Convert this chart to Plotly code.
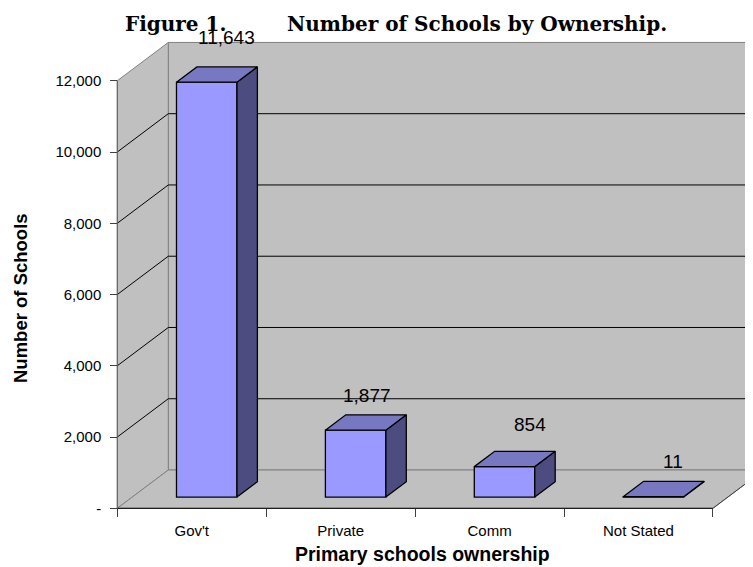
import plotly.graph_objects as go

# ---------------- data ----------------
categories = ["Gov't", "Private", "Comm", "Not Stated"]
values = [11643, 1877, 854, 11]
y_tick_values = [0, 2000, 4000, 6000, 8000, 10000, 12000]
y_tick_labels = ["-", "2,000", "4,000", "6,000", "8,000", "10,000", "12,000"]
title_left = "Figure 1."
title_right = "Number of Schools by Ownership."
x_title = "Primary schools ownership"
y_title = "Number of Schools"

# label nudges in pixels (Excel's quirky 3D label placement)
label_dx = [10, 1, 15, 9]
label_dy = [37, 27, 34, 27]

# ---------------- geometry (reference pixel coordinates) ----------------
W, H = 753, 567
OFF = 8                      # page body margin offset of the rendered figure
PL, PR, PT, PB = 100, 753, 30, 527   # plot area in page pixels
FW, FH = W - OFF, H - OFF
ML, MT = PL - OFF, PT - OFF
MR = FW - (PR - OFF)
MB = FH - (PB - OFF)
plot_w = PR - PL
plot_h = PB - PT

AX_X = 117.3          # px of front-left floor corner
AX_Y = 508.3
PX_PER_CAT = 148.9
PX_PER_VAL = 0.03563
DX = 51 / PX_PER_CAT        # depth offset in category units
DY = 38.3 / PX_PER_VAL      # depth offset in value units
F1 = 0.294                  # depth fraction of bar front face
BD = 0.40                   # bar depth fraction
BW = 60.5 / PX_PER_CAT      # bar width


def x_of_px(px):
    return (px - AX_X) / PX_PER_CAT - 0.5


def y_of_px(py):
    return (AX_Y - py) / PX_PER_VAL


def paper_x(px):
    return (px - PL) / plot_w


def paper_y(py):
    return (PB - py) / plot_h


xr = [x_of_px(PL), x_of_px(PR)]
yr = [y_of_px(PB), y_of_px(PT)]

n = len(categories)
xl0, xr0 = -0.5, n - 0.5
ymax = y_tick_values[-1]

WALL = "#C0C0C0"
EDGE = "#808080"
FRONT = "#9999FF"
TOP = "#7777C2"
SIDE = "#4C4C80"

shapes = []


def poly(pts, fill, line, width=1):
    path = "M " + " L ".join(f"{x},{y}" for x, y in pts) + " Z"
    return dict(type="path", path=path, xref="x", yref="y", fillcolor=fill,
                line=dict(color=line, width=width), layer="below")


def seg(x0, y0, x1, y1, color, width=1):
    return dict(type="line", x0=x0, y0=y0, x1=x1, y1=y1, xref="x", yref="y",
                line=dict(color=color, width=width), layer="below")


# back wall
shapes.append(poly([(xl0 + DX, DY), (xr0 + DX, DY), (xr0 + DX, ymax + DY), (xl0 + DX, ymax + DY)], WALL, EDGE))
# side wall
shapes.append(poly([(xl0, 0), (xl0, ymax), (xl0 + DX, ymax + DY), (xl0 + DX, DY)], WALL, EDGE))
# floor
shapes.append(poly([(xl0, 0), (xr0, 0), (xr0 + DX, DY), (xl0 + DX, DY)], WALL, EDGE))

# gridlines
for v in y_tick_values[1:-1]:
    shapes.append(seg(xl0, v, xl0 + DX, v + DY, "#000000"))
    shapes.append(seg(xl0 + DX, v + DY, xr0 + DX, v + DY, "#000000"))

# front edges
shapes.append(seg(xl0, 0, xr0, 0, "#000000"))
shapes.append(seg(xl0, 0, xl0, ymax, "#606060"))
shapes.append(seg(xr0, 0, xr0 + DX, DY, "#404040"))

fig = go.Figure()

# bar front faces
cx = [i + F1 * DX for i in range(n)]
base = F1 * DY
fig.add_trace(go.Bar(
    x=cx, y=values, base=base, width=BW,
    marker=dict(color=FRONT, line=dict(color="#000000", width=1.3)),
    hoverinfo="skip", showlegend=False,
))

# side and top faces
sx, sy, tx, ty = [], [], [], []
for i, v in enumerate(values):
    xa = cx[i] + BW / 2
    xb = cx[i] - BW / 2
    top = base + v
    sx += [xa, xa, xa + BD * DX, xa + BD * DX, xa, None]
    sy += [base, top, top + BD * DY, base + BD * DY, base, None]
    tx += [xb, xa, xa + BD * DX, xb + BD * DX, xb, None]
    ty += [top, top, top + BD * DY, top + BD * DY, top, None]

fig.add_trace(go.Scatter(x=sx, y=sy, mode="lines", fill="toself", fillcolor=SIDE,
                         line=dict(color="#000000", width=1.3), hoverinfo="skip", showlegend=False))
fig.add_trace(go.Scatter(x=tx, y=ty, mode="lines", fill="toself", fillcolor=TOP,
                         line=dict(color="#000000", width=1.3), hoverinfo="skip", showlegend=False))

FONT = "Liberation Sans, Arial, sans-serif"
annotations = []
for i, v in enumerate(values):
    annotations.append(dict(
        x=cx[i] + BD * DX / 2, y=base + v + BD * DY / 2, xref="x", yref="y",
        text=f"{v:,}", showarrow=False, xanchor="center", yanchor="middle",
        xshift=label_dx[i], yshift=label_dy[i],
        font=dict(family=FONT, size=19, color="#000000"),
    ))

annotations.append(dict(x=paper_x(123), y=paper_y(24), xref="paper", yref="paper",
                        text=f"<b>{title_left}</b>", showarrow=False, xanchor="left", yanchor="middle",
                        font=dict(family="DejaVu Serif", size=20, color="#000000")))
annotations.append(dict(x=paper_x(285), y=paper_y(24), xref="paper", yref="paper",
                        text=f"<b>{title_right}</b>", showarrow=False, xanchor="left", yanchor="middle",
                        font=dict(family="DejaVu Serif", size=20, color="#000000")))
annotations.append(dict(x=paper_x(422), y=paper_y(554), xref="paper", yref="paper",
                        text=f"<b>{x_title}</b>", showarrow=False, xanchor="center", yanchor="middle",
                        font=dict(family=FONT, size=19.5, color="#000000")))
annotations.append(dict(x=paper_x(20), y=paper_y(298), xref="paper", yref="paper",
                        text=f"<b>{y_title}</b>", showarrow=False, xanchor="center", yanchor="middle",
                        textangle=-90, font=dict(family=FONT, size=18.5, color="#000000")))

fig.update_layout(
    width=FW, height=FH,
    margin=dict(l=ML, r=MR, t=MT, b=MB, autoexpand=False),
    paper_bgcolor="#FFFFFF", plot_bgcolor="rgba(0,0,0,0)",
    shapes=shapes, annotations=annotations, showlegend=False,
    xaxis=dict(
        range=xr, anchor="free", position=paper_y(AX_Y),
        showgrid=False, zeroline=False, showline=False,
        tickmode="array", tickvals=list(range(n)), ticktext=categories,
        ticks="outside", ticklen=9, tickcolor="rgba(0,0,0,0)",
        tickfont=dict(family=FONT, size=15, color="#000000"),
        minor=dict(tickmode="array", tickvals=[i - 0.5 for i in range(n + 1)],
                   ticks="outside", ticklen=8, tickcolor="#404040", tickwidth=1),
        fixedrange=True, automargin=False,
    ),
    yaxis=dict(
        range=yr, anchor="free", position=paper_x(AX_X),
        showgrid=False, zeroline=False, showline=False,
        tickmode="array", tickvals=y_tick_values, ticktext=y_tick_labels,
        ticks="outside", ticklen=7, tickcolor="#404040", tickwidth=1,
        ticklabelstandoff=6,
        tickfont=dict(family=FONT, size=15, color="#000000"),
        fixedrange=True, automargin=False,
    ),
)

fig.write_html("out.html")
